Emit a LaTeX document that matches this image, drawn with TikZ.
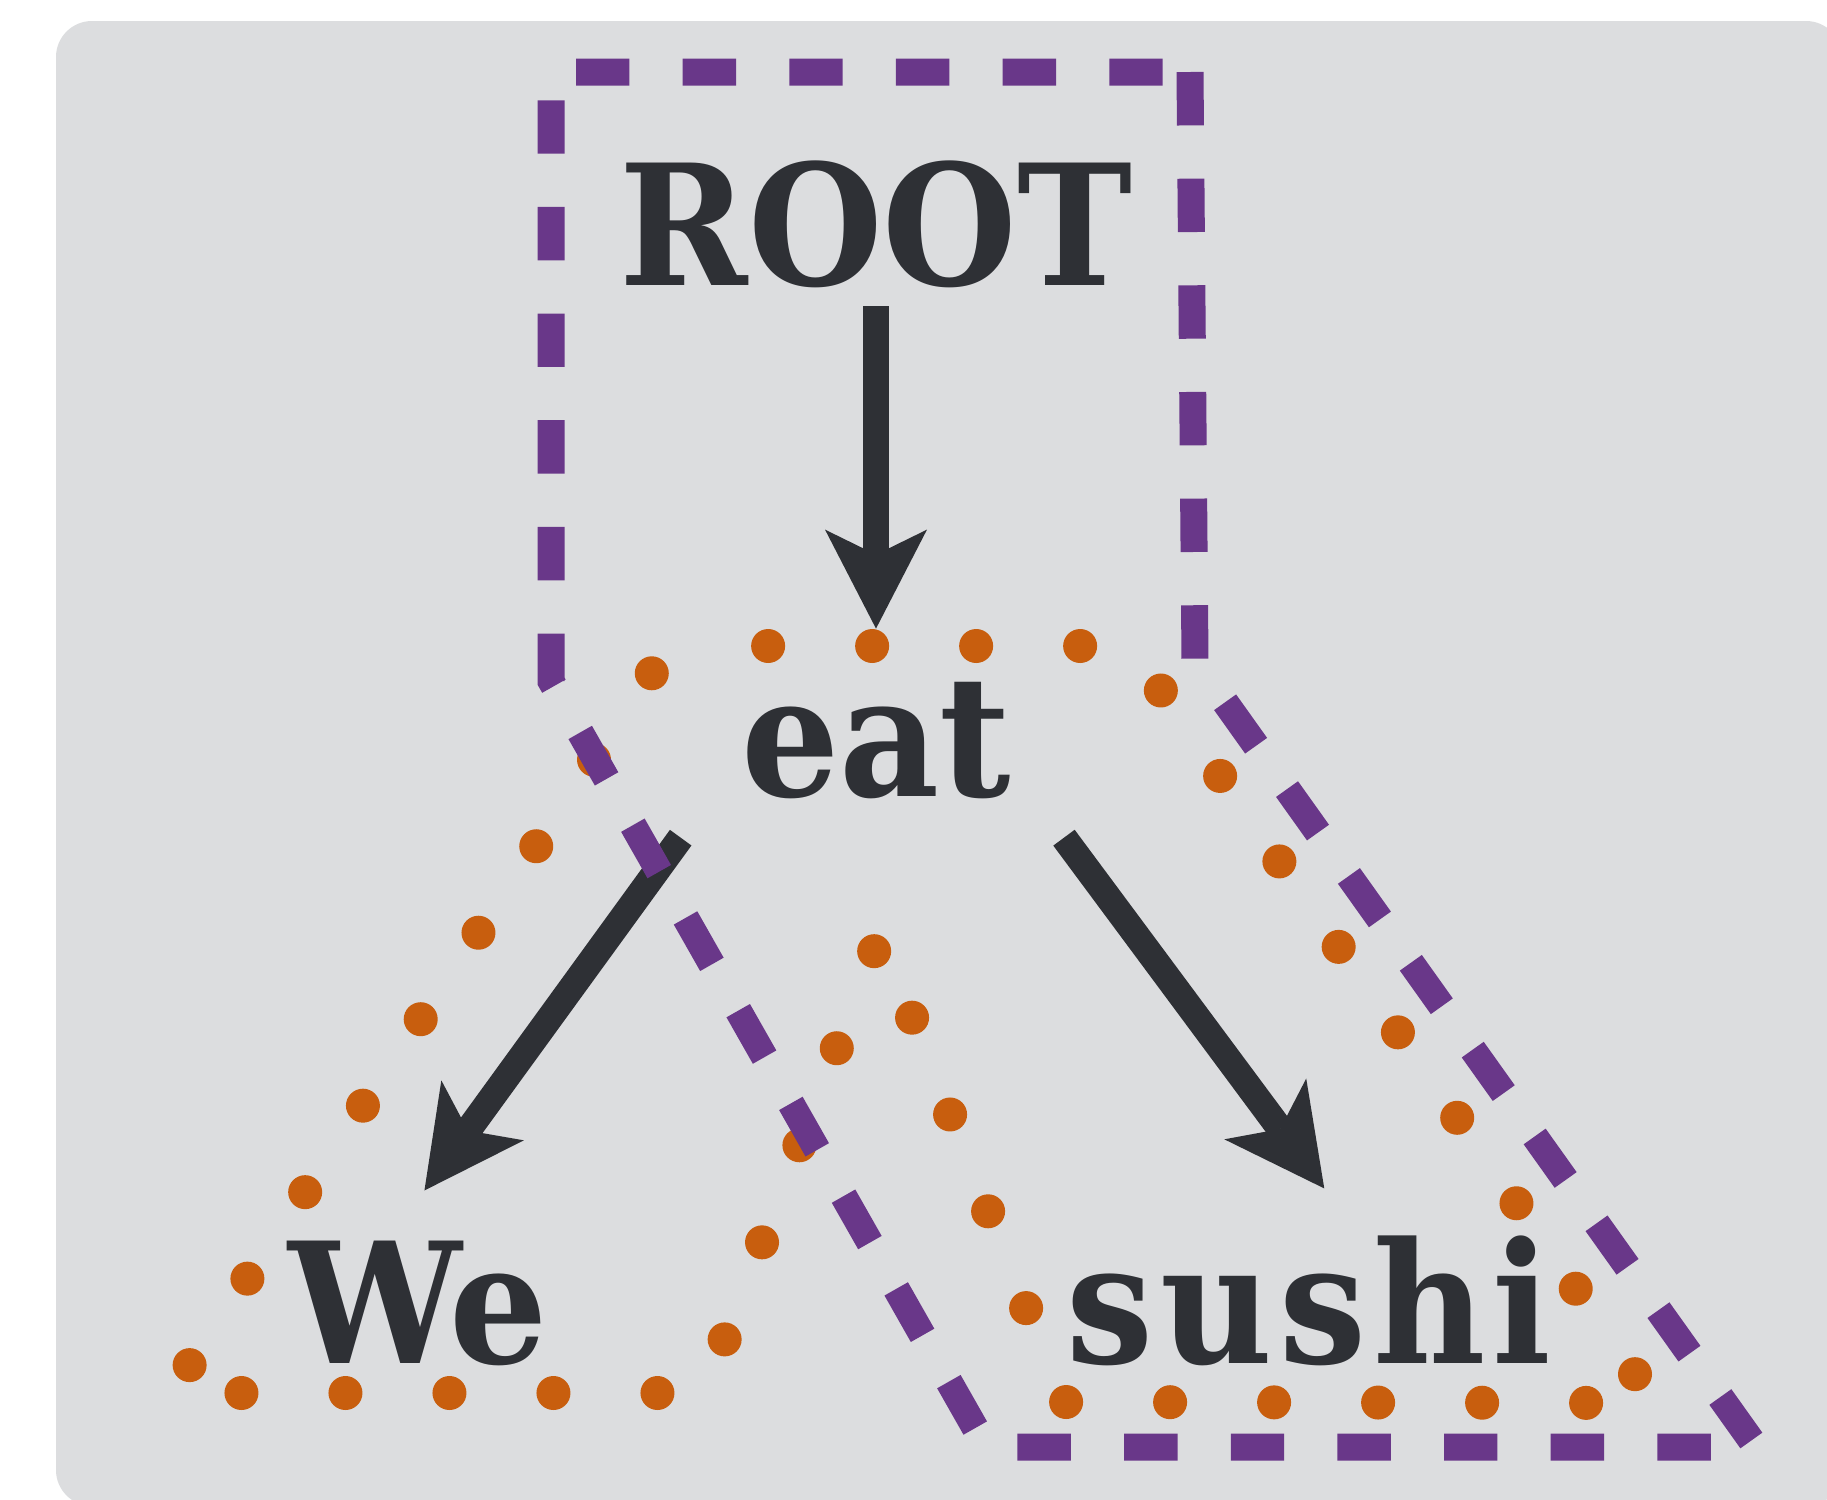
\documentclass[tikz,border=0pt]{standalone}
\usepackage{fontspec}
\usepackage{tikz}
\usetikzlibrary{arrows.meta}
\newfontfamily\wordfont[FakeStretch=0.92]{DejaVu Serif}
\definecolor{TreeBg}{RGB}{220,221,223}
\definecolor{TreeInk}{RGB}{46,48,53}
\definecolor{SpanPurple}{RGB}{105,55,137}
\definecolor{SpanOrange}{RGB}{200,94,14}

\begin{document}
\begin{tikzpicture}[x=0.5pt,y=-0.5pt,
  word/.style={anchor=base,inner sep=0pt,text height=61pt,text depth=0pt,text=TreeInk,font=\wordfont\bfseries\fontsize{84pt}{84pt}\selectfont},
  branch/.style={TreeInk,line width=13.3pt,-{Stealth[length=49.5pt,width=51pt,inset=12.5pt,line width=0pt]}},
  proj/.style={SpanPurple,line width=13.5pt,dash pattern=on 26.7pt off 26.625pt},
  span/.style={SpanOrange,line width=17pt,line cap=round,dash pattern=on 0pt off 52pt,dash phase=35.6pt}]
\useasboundingbox (0,0) rectangle (1827,1500);
\fill[white] (0,0) rectangle (1827,1500);
\fill[TreeBg,rounded corners=18pt] (56,21) rectangle (1842,1506);
% words of the sentence
\node[word] (root) at (876,285) {ROOT};
\node[word] (eat) at (876,796) {eat};
\node[word] (we) at (418,1363) {We};
\node[word] (sushi) at (1309,1363) {\addfontfeature{LetterSpace=4}sushi};
% span of eat
\draw[span] (670,646) -- (171,1393) -- (704,1393) -- (880,936) -- (1063,1402)
   -- (1655,1403) -- (1130,646) -- (690,646);
% dependency arcs
\draw[branch,shorten <=10.5pt,shorten >=22.5pt] (root.south) -- (eat.north);
\draw[branch,shorten <=25.5pt,shorten >=31pt] ([xshift=-15pt]eat.south west) -- ([xshift=-15pt]we.north);
\draw[branch,shorten <=25.7pt,shorten >=32.5pt] ([xshift=11pt]eat.south east) -- ([xshift=27pt]sushi.north);
% projection of ROOT
\draw[proj] (1190,72) -- (1195,660) -- (1756,1447) -- (986,1447) -- (551,681)
   -- (551,72) -- cycle;
\end{tikzpicture}
\end{document}
